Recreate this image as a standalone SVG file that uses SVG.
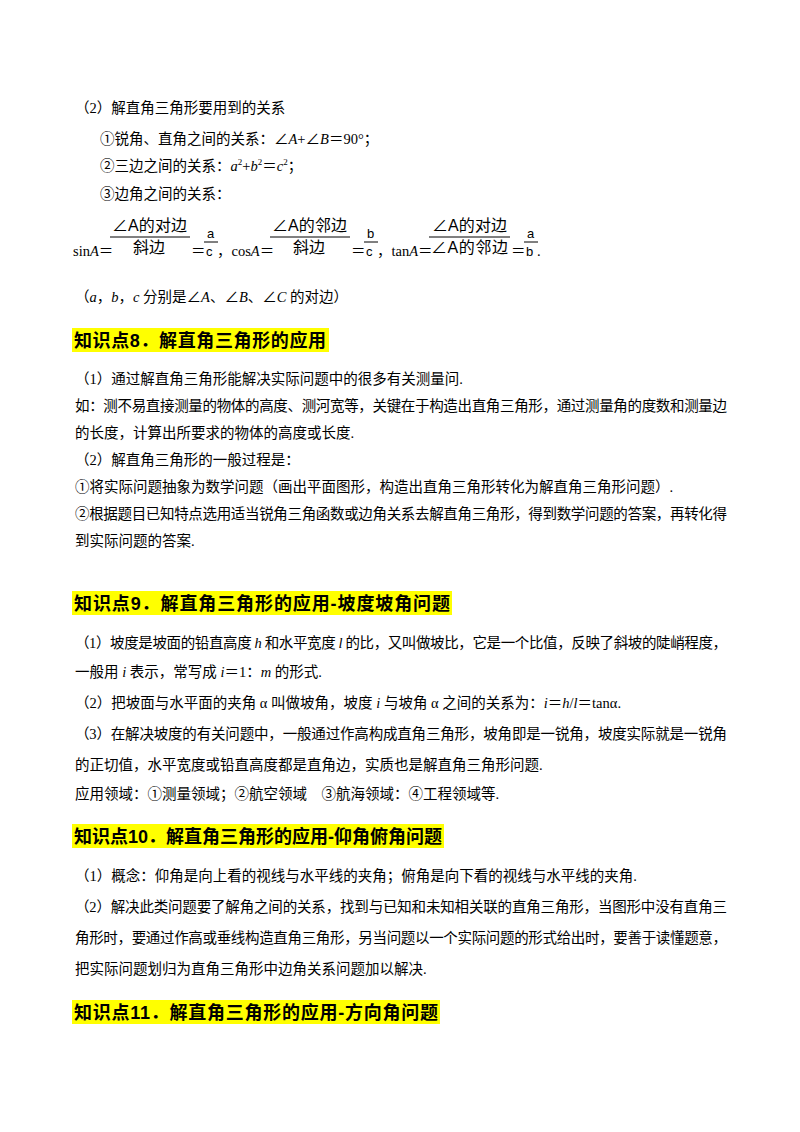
<svg xmlns="http://www.w3.org/2000/svg" width="800" height="1132" viewBox="0 0 800 1132">
<style>
text{font-family:"Liberation Serif","Noto Sans CJK SC",serif;font-size:14.5px;fill:#000}
.h{font-family:"Liberation Sans","Noto Sans CJK SC",sans-serif;font-size:18px;font-weight:bold}
.f{font-family:"Liberation Sans","Noto Sans CJK SC",sans-serif;font-size:16px}
.s{font-family:"Liberation Sans",sans-serif;font-size:13px}
.hl{fill:#ffff00}
line{stroke:#000;stroke-width:1}
</style>
<rect width="800" height="1132" fill="#fff"/>
<text x="75" y="113">（2）解直角三角形要用到的关系</text>
<text x="100" y="144">①锐角、直角之间的关系：∠<tspan font-style="italic">A</tspan>+∠<tspan font-style="italic">B</tspan>＝90°；</text>
<text x="100" y="171">②三边之间的关系：<tspan font-style="italic">a</tspan><tspan font-size="9" dy="-6">2</tspan><tspan dy="6">+</tspan><tspan font-style="italic">b</tspan><tspan font-size="9" dy="-6">2</tspan><tspan dy="6">＝</tspan><tspan font-style="italic">c</tspan><tspan font-size="9" dy="-6">2</tspan><tspan dy="6">；</tspan></text>
<text x="100" y="199">③边角之间的关系：</text>
<g id="formulas">
<text x="73" y="256">sin<tspan font-style="italic">A</tspan>＝</text>
<text class="f" x="112" y="231" textLength="75">∠A的对边</text>
<line x1="110" y1="237" x2="190" y2="237"/>
<text class="f" x="133" y="253">斜边</text>
<text class="s" x="207" y="238">a</text>
<line x1="204" y1="242" x2="218" y2="242"/>
<text x="191" y="256">＝</text>
<text class="s" x="206" y="256">c</text>
<text x="217" y="256">，cos<tspan font-style="italic">A</tspan>＝</text>
<text class="f" x="272" y="231" textLength="75">∠A的邻边</text>
<line x1="270" y1="237" x2="350" y2="237"/>
<text class="f" x="293" y="253">斜边</text>
<text class="s" x="367" y="238">b</text>
<line x1="364" y1="242" x2="378" y2="242"/>
<text x="351" y="256">＝</text>
<text class="s" x="366" y="256">c</text>
<text x="377" y="256">，tan<tspan font-style="italic">A</tspan>＝</text>
<text class="f" x="432" y="231" textLength="75">∠A的对边</text>
<line x1="429" y1="237" x2="510" y2="237"/>
<text class="f" x="431" y="253" textLength="77">∠A的邻边</text>
<text class="s" x="527" y="238">a</text>
<line x1="524" y1="242" x2="538" y2="242"/>
<text x="511" y="256">＝</text>
<text class="s" x="526" y="256">b</text>
<text x="537" y="256">.</text>
</g>
<text x="75" y="302">（<tspan font-style="italic">a</tspan>，<tspan font-style="italic">b</tspan>，<tspan font-style="italic">c</tspan> 分别是∠<tspan font-style="italic">A</tspan>、∠<tspan font-style="italic">B</tspan>、∠<tspan font-style="italic">C</tspan> 的对边）</text>

<rect class="hl" x="72" y="328" width="257" height="24"/>
<text class="h" x="74" y="347" textLength="252">知识点8．解直角三角形的应用</text>
<text x="75" y="384">（1）通过解直角三角形能解决实际问题中的很多有关测量问.</text>
<text x="75" y="411" textLength="652">如：测不易直接测量的物体的高度、测河宽等，关键在于构造出直角三角形，通过测量角的度数和测量边</text>
<text x="75" y="438">的长度，计算出所要求的物体的高度或长度.</text>
<text x="75" y="465">（2）解直角三角形的一般过程是：</text>
<text x="75" y="492">①将实际问题抽象为数学问题（画出平面图形，构造出直角三角形转化为解直角三角形问题）.</text>
<text x="75" y="519" textLength="652">②根据题目已知特点选用适当锐角三角函数或边角关系去解直角三角形，得到数学问题的答案，再转化得</text>
<text x="75" y="546">到实际问题的答案.</text>

<rect class="hl" x="72" y="591" width="380" height="24"/>
<text class="h" x="74" y="610" textLength="376">知识点9．解直角三角形的应用-坡度坡角问题</text>
<text x="75" y="648" textLength="652">（1）坡度是坡面的铅直高度 <tspan font-style="italic">h</tspan> 和水平宽度 <tspan font-style="italic">l</tspan> 的比，又叫做坡比，它是一个比值，反映了斜坡的陡峭程度，</text>
<text x="75" y="677">一般用 <tspan font-style="italic">i</tspan> 表示，常写成 <tspan font-style="italic">i</tspan>＝1：<tspan font-style="italic">m</tspan> 的形式.</text>
<text x="75" y="708">（2）把坡面与水平面的夹角 α 叫做坡角，坡度 <tspan font-style="italic">i</tspan> 与坡角 α 之间的关系为：<tspan font-style="italic">i</tspan>＝<tspan font-style="italic">h</tspan>/<tspan font-style="italic">l</tspan>＝tanα.</text>
<text x="75" y="739" textLength="652">（3）在解决坡度的有关问题中，一般通过作高构成直角三角形，坡角即是一锐角，坡度实际就是一锐角</text>
<text x="75" y="770">的正切值，水平宽度或铅直高度都是直角边，实质也是解直角三角形问题.</text>
<text x="75" y="799">应用领域：①测量领域；②航空领域　③航海领域：④工程领域等.</text>

<rect class="hl" x="72" y="824" width="372" height="24"/>
<text class="h" x="74" y="843" textLength="368">知识点10．解直角三角形的应用-仰角俯角问题</text>
<text x="75" y="881">（1）概念：仰角是向上看的视线与水平线的夹角；俯角是向下看的视线与水平线的夹角.</text>
<text x="75" y="912" textLength="652">（2）解决此类问题要了解角之间的关系，找到与已知和未知相关联的直角三角形，当图形中没有直角三</text>
<text x="75" y="943" textLength="652">角形时，要通过作高或垂线构造直角三角形，另当问题以一个实际问题的形式给出时，要善于读懂题意，</text>
<text x="75" y="974">把实际问题划归为直角三角形中边角关系问题加以解决.</text>

<rect class="hl" x="72" y="1000" width="368" height="24"/>
<text class="h" x="74" y="1019" textLength="364">知识点11．解直角三角形的应用-方向角问题</text>
</svg>
